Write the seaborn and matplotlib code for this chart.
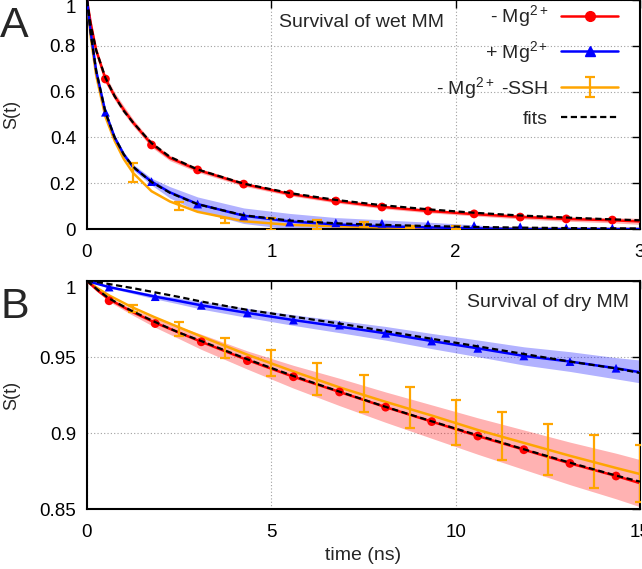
import matplotlib
matplotlib.use('Agg')
import matplotlib.pyplot as plt
from matplotlib.lines import Line2D
from matplotlib.legend_handler import HandlerTuple
from matplotlib.ticker import FuncFormatter
import seaborn as sns

# ---- panel A: survival of wet MM (time in ns) ----
t_wet = [0, 0.02, 0.05, 0.1, 0.15, 0.2, 0.25, 0.35, 0.45, 0.6, 0.85, 1.1, 1.35, 1.6, 1.85, 2.1, 2.35, 2.6, 2.85, 3.0]
wet_minus = [1.0, 0.90, 0.78, 0.655, 0.58, 0.52, 0.465, 0.37, 0.31, 0.258, 0.196, 0.153, 0.122, 0.097, 0.079, 0.065, 0.053, 0.044, 0.038, 0.033]
wet_minus_hi = [1.0, 0.915, 0.795, 0.672, 0.597, 0.537, 0.48, 0.383, 0.322, 0.268, 0.205, 0.161, 0.13, 0.105, 0.087, 0.073, 0.062, 0.054, 0.049, 0.047]
wet_minus_lo = [1.0, 0.885, 0.765, 0.638, 0.563, 0.503, 0.45, 0.357, 0.298, 0.248, 0.187, 0.145, 0.114, 0.089, 0.071, 0.057, 0.044, 0.034, 0.027, 0.02]
wet_minus_fit = [1.0, 0.89, 0.78, 0.66, 0.58, 0.515, 0.465, 0.375, 0.315, 0.26, 0.198, 0.157, 0.127, 0.104, 0.086, 0.071, 0.059, 0.05, 0.042, 0.038]

wet_plus = [1.0, 0.86, 0.69, 0.51, 0.40, 0.325, 0.27, 0.207, 0.16, 0.109, 0.058, 0.033, 0.02, 0.012, 0.007, 0.003, 0.0, 0.0, 0.0, 0.0]
wet_plus_hi = [1.0, 0.87, 0.70, 0.52, 0.41, 0.335, 0.283, 0.222, 0.185, 0.14, 0.092, 0.068, 0.05, 0.04, 0.03, 0.018, 0.006, 0.0, 0.0, 0.0]
wet_plus_lo = [1.0, 0.85, 0.68, 0.50, 0.39, 0.315, 0.257, 0.192, 0.135, 0.078, 0.024, 0.0, 0.0, 0.0, 0.0, 0.0, 0.0, 0.0, 0.0, 0.0]
wet_plus_fit = [1.0, 0.855, 0.69, 0.51, 0.40, 0.325, 0.272, 0.205, 0.158, 0.108, 0.06, 0.037, 0.025, 0.018, 0.013, 0.009, 0.006, 0.004, 0.003, 0.002]

wet_ssh = [1.0, 0.84, 0.67, 0.49, 0.385, 0.305, 0.245, 0.165, 0.12, 0.075, 0.034, 0.018, 0.012, 0.007, 0.004, 0.002, 0.001, 0.0, 0.0, 0.0]

t_mark_wet = [0.1, 0.35, 0.6, 0.85, 1.1, 1.35, 1.6, 1.85, 2.1, 2.35, 2.6, 2.85]
wet_minus_pts = [0.655, 0.367, 0.258, 0.196, 0.153, 0.122, 0.096, 0.079, 0.066, 0.052, 0.044, 0.039]
wet_plus_pts = [0.51, 0.207, 0.109, 0.057, 0.030, 0.027, 0.025, 0.020, 0.015, 0.010, 0.005, 0.004]

t_err_wet = [0.25, 0.5, 0.75, 1.0, 1.25, 1.5, 1.75, 2.0]
wet_ssh_pts = [0.246, 0.10, 0.037, 0.022, 0.018, 0.02, 0.01, 0.007]
wet_ssh_err = [0.042, 0.018, 0.011, 0.025, 0.02, 0.01, 0.005, 0.006]

# ---- panel B: survival of dry MM ----
t_dry = [0, 0.3, 0.6, 1.2, 1.85, 2.5, 3.1, 4.35, 5.6, 6.85, 8.1, 9.35, 10.6, 11.85, 13.1, 14.35, 15]
dry_minus = [1.0, 0.9935, 0.988, 0.980, 0.9725, 0.966, 0.960, 0.948, 0.937, 0.927, 0.917, 0.9075, 0.898, 0.889, 0.880, 0.8717, 0.867]
dry_minus_hi = [1.0, 0.9945, 0.9895, 0.982, 0.9755, 0.970, 0.965, 0.954, 0.9445, 0.936, 0.927, 0.9185, 0.910, 0.902, 0.894, 0.8867, 0.8825]
dry_minus_lo = [1.0, 0.9925, 0.9865, 0.978, 0.9695, 0.962, 0.955, 0.942, 0.9295, 0.918, 0.907, 0.8965, 0.886, 0.876, 0.866, 0.8567, 0.8515]
dry_minus_fit = [1.0, 0.994, 0.9885, 0.9805, 0.973, 0.966, 0.9605, 0.9485, 0.9375, 0.9272, 0.9172, 0.9077, 0.8985, 0.8893, 0.8805, 0.872, 0.868]

dry_plus = [1.0, 0.998, 0.996, 0.993, 0.9897, 0.9868, 0.984, 0.979, 0.9743, 0.970, 0.9656, 0.9605, 0.9557, 0.9507, 0.947, 0.9426, 0.940]
dry_plus_hi = [1.0, 0.9983, 0.9966, 0.994, 0.9912, 0.9888, 0.9865, 0.982, 0.9778, 0.974, 0.9701, 0.9655, 0.9612, 0.9567, 0.9535, 0.9496, 0.948]
dry_plus_lo = [1.0, 0.9977, 0.9954, 0.992, 0.9882, 0.9848, 0.9815, 0.976, 0.9708, 0.966, 0.9611, 0.9555, 0.9502, 0.9447, 0.9405, 0.9356, 0.933]
dry_plus_fit = [1.0, 0.9992, 0.998, 0.9955, 0.9925, 0.9895, 0.9865, 0.981, 0.9765, 0.972, 0.967, 0.962, 0.957, 0.952, 0.947, 0.9425, 0.9395]

dry_ssh = [1.0, 0.995, 0.9905, 0.983, 0.976, 0.9695, 0.9635, 0.9515, 0.9405, 0.930, 0.9205, 0.9115, 0.902, 0.8935, 0.885, 0.877, 0.873]

t_mark_dry = [0.6, 1.85, 3.1, 4.35, 5.6, 6.85, 8.1, 9.35, 10.6, 11.85, 13.1, 14.35]
dry_minus_pts = [0.987, 0.972, 0.960, 0.9476, 0.937, 0.927, 0.917, 0.9075, 0.898, 0.889, 0.880, 0.8717]
dry_plus_pts = [0.996, 0.9897, 0.984, 0.979, 0.9743, 0.971, 0.9656, 0.9605, 0.9557, 0.9507, 0.947, 0.9426]

t_err_dry = [1.25, 2.5, 3.75, 5.0, 6.25, 7.5, 8.75, 10.0, 11.25, 12.5, 13.75, 15.0]
dry_ssh_pts = [0.982, 0.9685, 0.956, 0.946, 0.9355, 0.926, 0.9165, 0.907, 0.898, 0.889, 0.881, 0.8735]
dry_ssh_err = [0.0022, 0.0045, 0.0068, 0.0088, 0.0105, 0.0123, 0.0135, 0.0147, 0.0158, 0.0168, 0.0175, 0.0186]

labels = ['- $\\mathrm{Mg}^{2+}$', '+ $\\mathrm{Mg}^{2+}$', '- $\\mathrm{Mg}^{2+}$ -SSH', 'fits']

RED = '#ff0000'
BLUE = '#0000ff'
ORANGE = '#ffa500'

sns.set_style('white')
plt.rcParams['font.family'] = ['Liberation Sans', 'DejaVu Sans']
plt.rcParams['mathtext.fontset'] = 'custom'
plt.rcParams['mathtext.rm'] = 'Liberation Sans'
plt.rcParams['mathtext.it'] = 'Liberation Sans:italic'
plt.rcParams['lines.dashed_pattern'] = [2.8, 1.6]

fig = plt.figure(figsize=(6.42, 5.69), dpi=100)
axA = fig.add_axes([87 / 642, 1 - 229 / 569, 553 / 642, 229 / 569])
axB = fig.add_axes([87 / 642, 1 - 509 / 569, 553 / 642, 228 / 569])


def draw_panel(ax, t, minus, minus_hi, minus_lo, minus_fit, plus, plus_hi, plus_lo, plus_fit,
               ssh, t_mark, minus_pts, plus_pts, t_err, ssh_pts, ssh_err):
    ax.fill_between(t, minus_lo, minus_hi, color=RED, alpha=0.3, lw=0, zorder=2)
    ax.fill_between(t, plus_lo, plus_hi, color=BLUE, alpha=0.3, lw=0, zorder=2)
    sns.lineplot(x=t, y=ssh, ax=ax, color=ORANGE, lw=1.8, zorder=3)
    sns.lineplot(x=t, y=minus, ax=ax, color=RED, lw=1.8, zorder=3)
    sns.lineplot(x=t, y=plus, ax=ax, color=BLUE, lw=1.8, zorder=3)
    sns.scatterplot(x=t_mark, y=minus_pts, ax=ax, color=RED, marker='o', s=40,
                    edgecolor='none', zorder=4, clip_on=False)
    sns.scatterplot(x=t_mark, y=plus_pts, ax=ax, color=BLUE, marker='^', s=40,
                    edgecolor='none', zorder=4, clip_on=True)
    err = ax.errorbar(t_err, ssh_pts, yerr=ssh_err, fmt='none', ecolor=ORANGE,
                      elinewidth=1.6, capsize=3.5, capthick=1.6, zorder=4)
    sns.lineplot(x=t, y=minus_fit, ax=ax, color='black', lw=1.6, linestyle='--', zorder=5)
    sns.lineplot(x=t, y=plus_fit, ax=ax, color='black', lw=1.6, linestyle='--', zorder=5)

    ax.grid(True, color='#a0a0a0', linestyle=(0, (1, 2)), lw=0.8)
    ax.set_axisbelow(True)
    for sp in ax.spines.values():
        sp.set_color('black')
        sp.set_linewidth(1.5)
    ax.tick_params(direction='in', length=5.5, width=1, top=True, right=True,
                   labelsize=13.5, colors='black')
    ax.tick_params(axis='x', pad=11)
    ax.tick_params(axis='y', pad=8)
    ax.yaxis.set_major_formatter(FuncFormatter(lambda v, p: '%g' % round(v, 3)))
    ax.set_ylabel('S(t)', fontsize=13)
    ax.yaxis.set_label_coords(-0.12, 0.5)
    return err


errA = draw_panel(axA, t_wet, wet_minus, wet_minus_hi, wet_minus_lo, wet_minus_fit,
                  wet_plus, wet_plus_hi, wet_plus_lo, wet_plus_fit, wet_ssh,
                  t_mark_wet, wet_minus_pts, wet_plus_pts, t_err_wet, wet_ssh_pts, wet_ssh_err)
axA.set_xlim(0, 3)
axA.set_ylim(0, 1)
axA.set_xticks([0, 1, 2, 3])
axA.set_yticks([0, 0.2, 0.4, 0.6, 0.8, 1])
axA.text(0.347, 0.90, 'Survival of wet MM', transform=axA.transAxes, va='center', fontsize=14)

draw_panel(axB, t_dry, dry_minus, dry_minus_hi, dry_minus_lo, dry_minus_fit,
           dry_plus, dry_plus_hi, dry_plus_lo, dry_plus_fit, dry_ssh,
           t_mark_dry, dry_minus_pts, dry_plus_pts, t_err_dry, dry_ssh_pts, dry_ssh_err)
axB.set_xlim(0, 15)
axB.set_ylim(0.85, 1)
axB.set_xticks([0, 5, 10, 15])
axB.set_yticks([0.85, 0.9, 0.95, 1])
axB.text(0.687, 0.904, 'Survival of dry MM', transform=axB.transAxes, va='center', fontsize=14)
axB.set_xlabel('time (ns)', fontsize=14)
axB.xaxis.set_label_coords(0.5, -0.165)

# top tick label of each panel sits just under the top edge
for ax in (axA, axB):
    ax.yaxis.get_major_ticks()[-1].label1.set_verticalalignment('top')

h_minus = Line2D([], [], color=RED, lw=1.8, marker='o', markersize=7)
h_plus = Line2D([], [], color=BLUE, lw=1.8, marker='^', markersize=7)
h_ssh = (Line2D([], [], color=ORANGE, lw=1.8), errA)
h_fit = Line2D([], [], color='black', lw=1.6, linestyle='--')
axA.legend([h_minus, h_plus, h_ssh, h_fit], labels, loc='upper right',
           bbox_to_anchor=(0.96, 0.985), frameon=False, markerfirst=False,
           fontsize=14, handlelength=2.9, handletextpad=0.7, labelspacing=0.5,
           borderpad=0, borderaxespad=0, handler_map={tuple: HandlerTuple(ndivide=1)})

fig.text(0.0, 1 - 37 / 569, 'A', fontsize=31, va='baseline')
fig.text(0.0, 1 - 318 / 569, 'B', fontsize=31, va='baseline')

fig.savefig('out.png', dpi=100)
